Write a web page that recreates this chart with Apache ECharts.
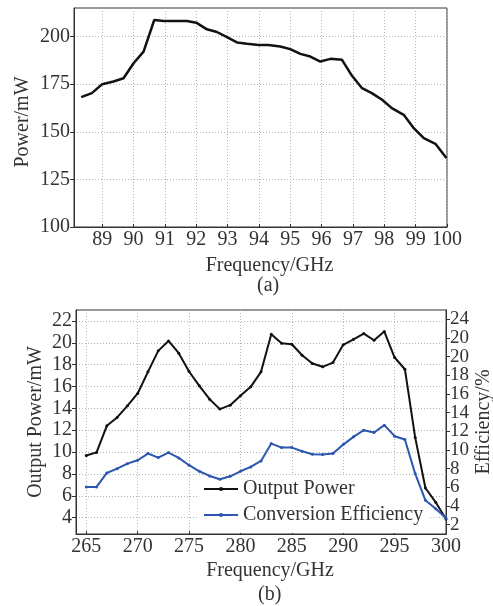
<!DOCTYPE html>
<html>
<head>
<meta charset="utf-8">
<script src="https://cdn.jsdelivr.net/npm/echarts@6/dist/echarts.min.js"></script>
<style>
html,body{margin:0;padding:0;background:#fff;}
#chart{width:493px;height:606px;}
</style>
</head>
<body>
<div id="chart"></div>
<script>
// ---- Data: panel (a) ----
const freqA = [88.33, 88.67, 89.0, 89.36, 89.68, 90.0, 90.32, 90.66, 90.96, 91.38, 91.7, 92.0,
  92.34, 92.66, 92.98, 93.3, 93.62, 93.99, 94.3, 94.68, 95.0, 95.32, 95.64, 95.96,
  96.28, 96.65, 96.97, 97.29, 97.6, 97.93, 98.24, 98.62, 98.94, 99.26, 99.63, 99.98];
const powerA = [168.2, 170.3, 175.0, 176.4, 178.1, 186.0, 192.1, 208.7, 208.2, 208.2, 208.2, 207.3,
  203.8, 202.4, 199.7, 196.9, 196.2, 195.6, 195.6, 194.8, 193.4, 190.9, 189.5, 186.9,
  188.3, 187.8, 179.4, 172.9, 170.3, 166.8, 162.4, 158.9, 151.9, 146.7, 143.7, 136.2];
const ticksAx = [89, 90, 91, 92, 93, 94, 95, 96, 97, 98, 99, 100];
const ticksAy = [100, 125, 150, 175, 200];

// ---- Data: panel (b) ----
const freqB = [265, 266, 267, 268, 269, 270, 271, 272, 273, 274, 275, 276, 277, 278, 279, 280,
  281, 282, 283, 284, 285, 286, 287, 288, 289, 290, 291, 292, 293, 294, 295, 296, 297, 298, 299, 300];
const powerB = [9.69, 9.97, 12.4, 13.17, 14.23, 15.36, 17.34, 19.26, 20.17, 19.05, 17.37, 16.06,
  14.84, 13.93, 14.29, 15.15, 15.97, 17.34, 20.78, 19.96, 19.87, 18.86, 18.1, 17.8,
  18.19, 19.81, 20.32, 20.84, 20.23, 21.03, 18.65, 17.58, 11.34, 6.71, 5.4, 3.88];
const effB = [6.04, 6.04, 7.54, 8.0, 8.54, 8.9, 9.62, 9.19, 9.72, 9.15, 8.37, 7.72,
  7.22, 6.86, 7.18, 7.72, 8.19, 8.83, 10.69, 10.26, 10.26, 9.87, 9.55, 9.51,
  9.62, 10.58, 11.41, 12.12, 11.87, 12.66, 11.48, 11.12, 7.47, 4.61, 3.71, 2.71];
const ticksBx = [265, 270, 275, 280, 285, 290, 295, 300];
const ticksBy = [4, 6, 8, 10, 12, 14, 16, 18, 20, 22];
const ticksBy2 = [2, 4, 6, 8, 10, 12, 14, 16, 18, 20, 22, 24];
const labelsBy2 = ["2", "4", "6", "8", "10", "12", "14", "16", "18", "20", "20", "24"];

const FONT = "'Liberation Serif', 'DejaVu Serif', serif";
const FS = 20;
const TXT = '#333';
const AX = '#333';
const GRIDC = '#b5b5b5';

function pairs(xs, ys) { return xs.map((x, i) => [x, ys[i]]); }
const labelOf = (v) => labelsBy2[ticksBy2.indexOf(v)];
// the right axis is drawn as two overlapping axes (alternate ticks) so no label is dropped
const ticksBy2Even = ticksBy2.filter((v, i) => i % 2 === 0);
const ticksBy2Odd = ticksBy2.filter((v, i) => i % 2 === 1);

function xAx(grid, min, max, ticks, name, gap) {
  return {
    type: 'value', gridIndex: grid, min: min, max: max,
    name: name, nameLocation: 'middle', nameGap: gap, nameMoveOverlap: false,
    nameTextStyle: { fontFamily: FONT, fontSize: FS, color: TXT, padding: [0, 0, 0, 18] },
    axisLine: { show: true, onZero: false, lineStyle: { color: AX, width: 1 } },
    axisTick: { show: true, inside: true, length: 3, customValues: ticks, lineStyle: { color: AX } },
    axisLabel: { customValues: ticks, margin: 3, fontFamily: FONT, fontSize: FS, color: TXT,
      interval: 0, showMinLabel: true, showMaxLabel: true, hideOverlap: false },
    splitLine: { show: true, lineStyle: { color: GRIDC, type: [1, 2], width: 1 } }
  };
}
function yAx(grid, min, max, ticks, name, gap, pos, formatter, split, fs, namePad) {
  return {
    type: 'value', gridIndex: grid, min: min, max: max, position: pos,
    name: name, nameLocation: 'middle', nameGap: gap, nameMoveOverlap: false,
    nameTextStyle: { fontFamily: FONT, fontSize: FS, color: TXT, padding: namePad || 0 },
    axisLine: { show: true, onZero: false, lineStyle: { color: AX, width: 1 } },
    axisTick: { show: true, inside: false, length: 4, customValues: ticks, lineStyle: { color: AX } },
    axisLabel: {
      customValues: ticks, margin: 4, fontFamily: FONT, fontSize: fs || FS, color: TXT,
      interval: 0, showMinLabel: true, showMaxLabel: true, hideOverlap: false,
      formatter: formatter || ((v) => String(v))
    },
    splitLine: { show: split, lineStyle: { color: GRIDC, type: [1, 2], width: 1 } }
  };
}

const chart = echarts.init(document.getElementById('chart'), null, { renderer: 'canvas' });
chart.setOption({
  backgroundColor: '#fff',
  animation: false,
  grid: [
    { left: 74, right: 46, top: 8, height: 219, show: true, borderColor: AX, borderWidth: 1,
      backgroundColor: 'transparent', containLabel: false, outerBoundsMode: 'none' },
    { left: 76, right: 47, top: 310, height: 224, show: true, borderColor: AX, borderWidth: 1,
      backgroundColor: 'transparent', containLabel: false, outerBoundsMode: 'none' }
  ],
  xAxis: [
    xAx(0, 88.1, 100, ticksAx, 'Frequency/GHz', 29),
    xAx(1, 264, 300, ticksBx, 'Frequency/GHz', 27)
  ],
  yAxis: [
    yAx(0, 100, 215, ticksAy, 'Power/mW', 41, 'left', null, true, FS, [0, 9, 0, 0]),
    yAx(1, 2.5, 23, ticksBy, 'Output Power/mW', 30, 'left', null, true),
    yAx(1, 1, 25, ticksBy2Even, 'Efficiency/%', 28, 'right', labelOf, false, 19),
    yAx(1, 1, 25, ticksBy2Odd, '', 28, 'right', labelOf, false, 19)
  ],
  legend: {
    orient: 'vertical', left: 198, top: 475, z: 1,
    backgroundColor: '#fff', padding: [4, 6, 8, 5],
    itemWidth: 34, itemHeight: 5, itemGap: 6,
    textStyle: { fontFamily: FONT, fontSize: FS, color: TXT },
    data: ['Output Power', 'Conversion Efficiency']
  },
  graphic: [
    { type: 'text', left: 257, top: 276, style: { text: '(a)', font: FS + "px 'Liberation Serif'", fill: TXT } },
    { type: 'text', left: 258, top: 585, style: { text: '(b)', font: FS + "px 'Liberation Serif'", fill: TXT } }
  ],
  series: [
    {
      type: 'line', xAxisIndex: 0, yAxisIndex: 0, data: pairs(freqA, powerA), z: 3,
      showSymbol: false, lineStyle: { color: '#111', width: 2.5 }, itemStyle: { color: '#111' }
    },
    {
      name: 'Output Power', type: 'line', xAxisIndex: 1, yAxisIndex: 1, data: pairs(freqB, powerB), z: 3,
      symbol: 'circle', symbolSize: 3, lineStyle: { color: '#111', width: 2 }, itemStyle: { color: '#111' }
    },
    {
      name: 'Conversion Efficiency', type: 'line', xAxisIndex: 1, yAxisIndex: 2, data: pairs(freqB, effB), z: 3,
      symbol: 'circle', symbolSize: 3, lineStyle: { color: '#2d56b0', width: 2 }, itemStyle: { color: '#2d56b0' }
    }
  ]
});
</script>
</body>
</html>
